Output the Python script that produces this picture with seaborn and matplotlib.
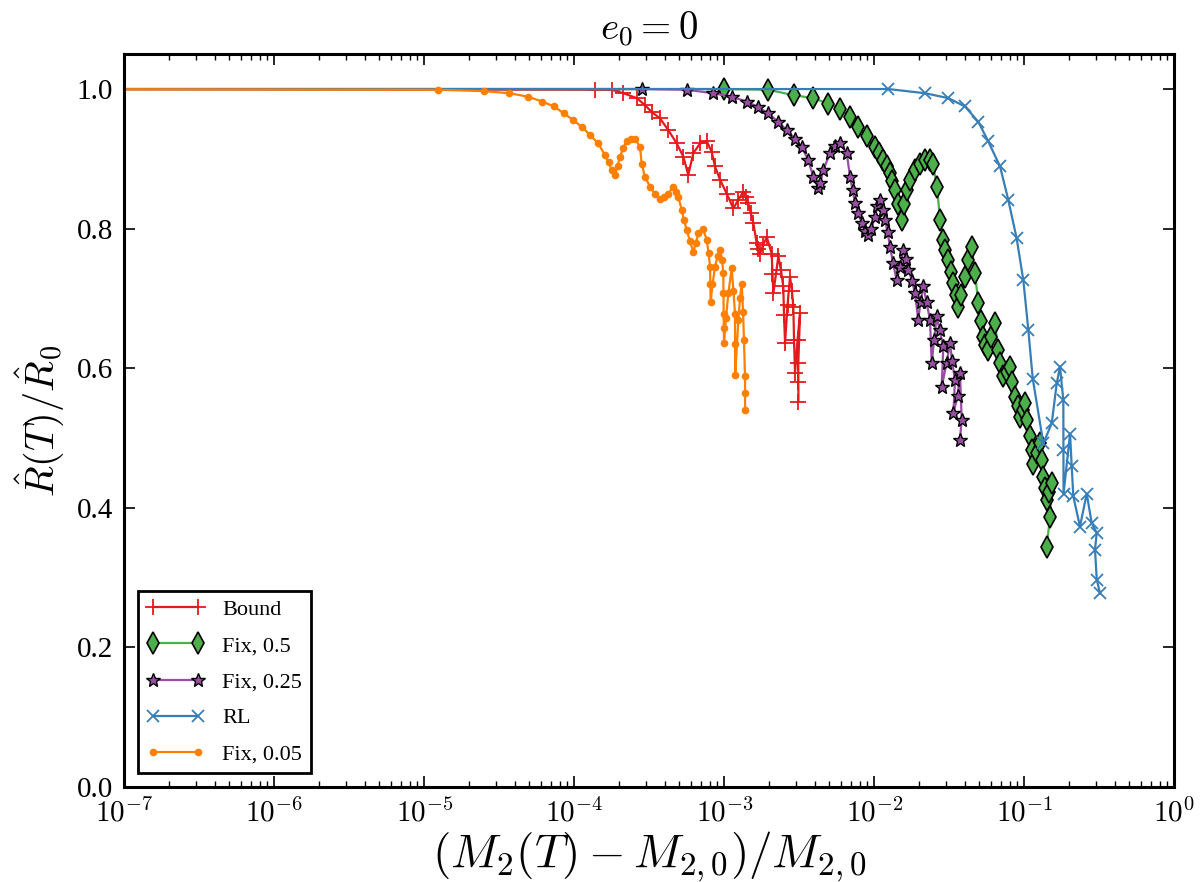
import numpy as np
import pandas as pd
import seaborn as sns
import matplotlib
matplotlib.use('Agg')
import matplotlib.pyplot as plt
from matplotlib.ticker import LogLocator, NullFormatter

# values
bound_x = [1e-8, 1.374e-4, 1.775e-4, 2.122e-4, 2.606e-4, 2.958e-4, 3.28e-4, 3.726e-4, 4.234e-4,
           4.82e-4, 5.33e-4, 5.75e-4, 6.21e-4, 6.89e-4, 7.64e-4, 8.24e-4, 8.67e-4, 9.36e-4,
           1.038e-3, 1.148e-3, 1.24e-3, 1.339e-3, 1.39e-3, 1.445e-3, 1.502e-3, 1.561e-3,
           1.644e-3, 1.686e-3, 1.73e-3, 1.811e-3, 1.918e-3, 2.07e-3, 2.095e-3, 2.122e-3,
           2.291e-3, 2.388e-3, 2.473e-3, 2.5e-3, 2.54e-3, 2.638e-3, 2.742e-3, 2.826e-3,
           2.884e-3, 2.917e-3, 2.96e-3, 3.076e-3, 3.198e-3, 3.113e-3, 3.115e-3, 3.12e-3]
bound_y = [1.0, 0.999, 0.999, 0.994, 0.987, 0.977, 0.967, 0.958, 0.941,
           0.922, 0.903, 0.877, 0.908, 0.922, 0.925, 0.910, 0.889, 0.870,
           0.850, 0.829, 0.841, 0.853, 0.845, 0.836, 0.822, 0.808,
           0.779, 0.771, 0.764, 0.776, 0.788, 0.764, 0.735, 0.707,
           0.760, 0.740, 0.717, 0.676, 0.636, 0.690, 0.731, 0.710,
           0.688, 0.640, 0.593, 0.640, 0.679, 0.607, 0.580, 0.552]

fix50_x = [1e-8, 1.0e-3, 1.963e-3, 2.93e-3, 3.919e-3, 4.93e-3, 5.91e-3, 6.89e-3, 7.82e-3,
           8.89e-3, 1.011e-2, 1.075e-2, 1.148e-2, 1.215e-2, 1.273e-2, 1.312e-2, 1.374e-2,
           1.439e-2, 1.523e-2, 1.578e-2, 1.644e-2, 1.73e-2, 1.868e-2, 2.018e-2, 2.178e-2,
           2.35e-2, 2.461e-2, 2.618e-2, 2.742e-2, 2.884e-2, 2.958e-2, 3.113e-2, 3.245e-2,
           3.365e-2, 3.477e-2, 3.63e-2, 3.785e-2, 4.024e-2, 4.214e-2, 4.46e-2, 4.69e-2,
           4.935e-2, 5.105e-2, 5.33e-2, 5.51e-2, 5.75e-2, 5.998e-2, 6.38e-2, 6.71e-2,
           6.934e-2, 7.24e-2, 7.61e-2, 8.03e-2, 8.34e-2, 8.67e-2, 9.01e-2, 9.36e-2,
           9.73e-2, 1.011e-1, 1.05e-1, 1.091e-1, 1.117e-1, 1.148e-1, 1.206e-1, 1.273e-1,
           1.302e-1, 1.339e-1, 1.374e-1, 1.41e-1, 1.462e-1, 1.523e-1, 1.483e-1, 1.41e-1]
fix50_y = [1.0, 1.0, 0.999, 0.991, 0.987, 0.979, 0.972, 0.960, 0.946,
           0.932, 0.917, 0.908, 0.898, 0.889, 0.879, 0.868, 0.855,
           0.835, 0.812, 0.835, 0.855, 0.870, 0.884, 0.892, 0.898,
           0.898, 0.892, 0.860, 0.813, 0.784, 0.770, 0.755, 0.738,
           0.722, 0.705, 0.688, 0.705, 0.731, 0.755, 0.774, 0.736,
           0.693, 0.668, 0.645, 0.633, 0.626, 0.645, 0.664, 0.626,
           0.607, 0.588, 0.595, 0.602, 0.580, 0.559, 0.545, 0.530,
           0.540, 0.550, 0.525, 0.502, 0.482, 0.463, 0.478, 0.492,
           0.468, 0.444, 0.428, 0.411, 0.423, 0.435, 0.387, 0.344]

fix25_x = [1e-8, 2.813e-4, 5.615e-4, 8.45e-4, 1.12e-3, 1.41e-3, 1.686e-3, 1.963e-3, 2.291e-3,
           2.606e-3, 2.96e-3, 3.28e-3, 3.63e-3, 3.919e-3, 4.234e-3, 4.375e-3, 4.571e-3,
           5.066e-3, 5.47e-3, 5.91e-3, 6.55e-3, 6.89e-3, 7.16e-3, 7.44e-3, 7.79e-3,
           8.24e-3, 8.67e-3, 9.12e-3, 9.57e-3, 1.011e-2, 1.05e-2, 1.091e-2, 1.134e-2,
           1.179e-2, 1.225e-2, 1.273e-2, 1.334e-2, 1.41e-2, 1.484e-2, 1.56e-2, 1.626e-2,
           1.686e-2, 1.784e-2, 1.868e-2, 1.963e-2, 2.032e-2, 2.122e-2, 2.228e-2, 2.35e-2,
           2.414e-2, 2.5e-2, 2.606e-2, 2.72e-2, 2.884e-2, 2.813e-2, 3.03e-2, 3.198e-2,
           3.297e-2, 3.451e-2, 3.365e-2, 3.589e-2, 3.726e-2, 3.825e-2, 3.72e-2]
fix25_y = [1.0, 1.0, 0.999, 0.994, 0.989, 0.982, 0.974, 0.965, 0.953,
           0.941, 0.929, 0.917, 0.898, 0.874, 0.858, 0.866, 0.884,
           0.908, 0.918, 0.922, 0.908, 0.874, 0.855, 0.836, 0.822,
           0.808, 0.796, 0.791, 0.800, 0.817, 0.832, 0.841, 0.826,
           0.812, 0.795, 0.774, 0.750, 0.726, 0.745, 0.769, 0.757,
           0.741, 0.725, 0.707, 0.669, 0.695, 0.717, 0.695, 0.669,
           0.607, 0.640, 0.674, 0.655, 0.631, 0.573, 0.607, 0.636,
           0.610, 0.583, 0.535, 0.560, 0.593, 0.526, 0.497]

rl_x = [1e-8, 1.239e-2, 2.178e-2, 3.113e-2, 4.024e-2, 4.935e-2, 5.75e-2, 6.89e-2, 7.82e-2,
        8.89e-2, 9.85e-2, 1.063e-1, 1.138e-1, 1.339e-1, 1.523e-1, 1.644e-1, 1.73e-1,
        1.82e-1, 1.823e-1, 1.826e-1, 2.018e-1, 2.07e-1, 2.122e-1, 2.35e-1, 2.606e-1,
        2.813e-1, 3.04e-1, 2.96e-1, 3.04e-1, 3.198e-1]
rl_y = [1.0, 1.0, 0.994, 0.987, 0.975, 0.953, 0.925, 0.889, 0.841,
        0.786, 0.726, 0.655, 0.585, 0.492, 0.521, 0.578, 0.602,
        0.554, 0.483, 0.420, 0.506, 0.459, 0.416, 0.373, 0.420,
        0.378, 0.364, 0.340, 0.297, 0.277]

fix05_x = [1e-8, 1.233e-5, 2.50e-5, 3.69e-5, 4.93e-5, 6.12e-5, 7.33e-5, 8.53e-5, 9.75e-5,
           1.12e-4, 1.273e-4, 1.445e-4, 1.603e-4, 1.69e-4, 1.775e-4, 1.868e-4, 1.941e-4,
           2.018e-4, 2.113e-4, 2.236e-4, 2.371e-4, 2.541e-4, 2.742e-4, 2.813e-4, 2.958e-4,
           3.198e-4, 3.451e-4, 3.726e-4, 3.963e-4, 4.234e-4, 4.571e-4, 4.764e-4, 4.935e-4,
           5.2e-4, 5.383e-4, 5.615e-4, 5.9e-4, 6.21e-4, 6.475e-4, 6.71e-4, 7.18e-4, 7.64e-4,
           7.85e-4, 8.03e-4, 8.07e-4, 8.11e-4, 8.34e-4, 8.67e-4, 9.01e-4, 9.36e-4, 9.66e-4,
           9.85e-4, 9.87e-4, 9.9e-4, 9.92e-4, 9.95e-4, 1.026e-3, 1.063e-3, 1.12e-3, 1.151e-3,
           1.178e-3, 1.18e-3, 1.182e-3, 1.24e-3, 1.273e-3, 1.306e-3, 1.334e-3, 1.352e-3,
           1.374e-3, 1.375e-3, 1.376e-3]
fix05_y = [1.0, 0.999, 0.997, 0.994, 0.989, 0.982, 0.975, 0.965, 0.956,
           0.946, 0.934, 0.922, 0.905, 0.895, 0.884, 0.877, 0.890,
           0.903, 0.915, 0.925, 0.929, 0.929, 0.917, 0.893, 0.874,
           0.860, 0.850, 0.843, 0.845, 0.850, 0.860, 0.852, 0.845,
           0.827, 0.812, 0.798, 0.782, 0.767, 0.780, 0.793, 0.800, 0.784,
           0.765, 0.745, 0.720, 0.695, 0.720, 0.745, 0.760, 0.769, 0.755,
           0.736, 0.707, 0.678, 0.657, 0.636, 0.672, 0.707, 0.743, 0.710,
           0.678, 0.634, 0.590, 0.669, 0.700, 0.721, 0.680, 0.640,
           0.588, 0.565, 0.540]

x_ticks = [1e-7, 1e-6, 1e-5, 1e-4, 1e-3, 1e-2, 1e-1, 1e0]
x_ticklabels = [r'$10^{-7}$', r'$10^{-6}$', r'$10^{-5}$', r'$10^{-4}$',
                r'$10^{-3}$', r'$10^{-2}$', r'$10^{-1}$', r'$10^{0}$']
y_ticks = [0.0, 0.2, 0.4, 0.6, 0.8, 1.0]

series = [
    ('Bound', bound_x, bound_y),
    ('Fix, 0.5', fix50_x, fix50_y),
    ('Fix, 0.25', fix25_x, fix25_y),
    ('RL', rl_x, rl_y),
    ('Fix, 0.05', fix05_x, fix05_y),
]

sns.set_style('ticks')
plt.rcParams['font.family'] = ['Liberation Serif', 'DejaVu Serif']
plt.rcParams['mathtext.fontset'] = 'cm'
plt.rcParams['axes.linewidth'] = 2.2
plt.rcParams['axes.edgecolor'] = 'black'
plt.rcParams['text.color'] = 'black'
plt.rcParams['axes.labelcolor'] = 'black'
plt.rcParams['xtick.color'] = 'black'
plt.rcParams['ytick.color'] = 'black'
plt.rcParams['xtick.direction'] = 'in'
plt.rcParams['ytick.direction'] = 'in'
plt.rcParams['xtick.top'] = True
plt.rcParams['ytick.right'] = True

pal = sns.color_palette('Set1')
colors = {'Bound': pal[0], 'Fix, 0.5': pal[2], 'Fix, 0.25': pal[3], 'RL': pal[1], 'Fix, 0.05': pal[4]}
styles = {
    'Bound': dict(marker='+', markersize=11, markeredgewidth=1.3, markeredgecolor=pal[0]),
    'Fix, 0.5': dict(marker='d', markersize=11, markeredgewidth=1.2, markeredgecolor='black', markerfacecolor=pal[2]),
    'Fix, 0.25': dict(marker='*', markersize=10, markeredgewidth=1.0, markeredgecolor='black', markerfacecolor=pal[3]),
    'RL': dict(marker='x', markersize=9, markeredgewidth=1.3, markeredgecolor=pal[1]),
    'Fix, 0.05': dict(marker='o', markersize=5.5, markeredgewidth=0, markerfacecolor=pal[4]),
}

fig = plt.figure(figsize=(12, 8.82), dpi=100)
ax = fig.add_axes([0.1036, 0.108, 0.8750, 0.8306])

for name, xs, ys in series:
    df = pd.DataFrame({'x': xs, 'y': ys})
    sns.lineplot(data=df, x='x', y='y', ax=ax, sort=False, estimator=None,
                 color=colors[name], linewidth=1.6, label=name, **styles[name])

ax.set_xscale('log')
ax.set_xlim(1e-7, 1e0)
ax.set_ylim(0, 1.05)
ax.set_xticks(x_ticks)
ax.set_xticklabels(x_ticklabels)
ax.set_yticks(y_ticks)
ax.set_yticklabels(['%.1f' % v for v in y_ticks])
ax.xaxis.set_minor_locator(LogLocator(base=10, subs=np.arange(2, 10), numticks=100))
ax.xaxis.set_minor_formatter(NullFormatter())
ax.tick_params(which='major', length=8, width=1.2, labelsize=21, pad=8)
ax.tick_params(which='minor', length=4, width=1.0)
ax.tick_params(which='both', top=True, right=True)

ax.set_title(r'$e_0 = 0$', fontsize=28, pad=10)
ax.set_xlabel(r'$(M_2(T) - M_{2,0})/M_{2,0}$', fontsize=34, labelpad=2)
ax.set_ylabel(r'$\hat{R}(T)/\hat{R}_0$', fontsize=29, labelpad=8)

leg = ax.legend(loc='lower left', numpoints=2, fontsize=16, fancybox=False,
                frameon=True, borderaxespad=0.6, handlelength=2.6, labelspacing=0.7)
leg.get_frame().set_edgecolor('black')
leg.get_frame().set_linewidth(2.0)
leg.get_frame().set_alpha(1)

fig.savefig('out.png', dpi=100)
